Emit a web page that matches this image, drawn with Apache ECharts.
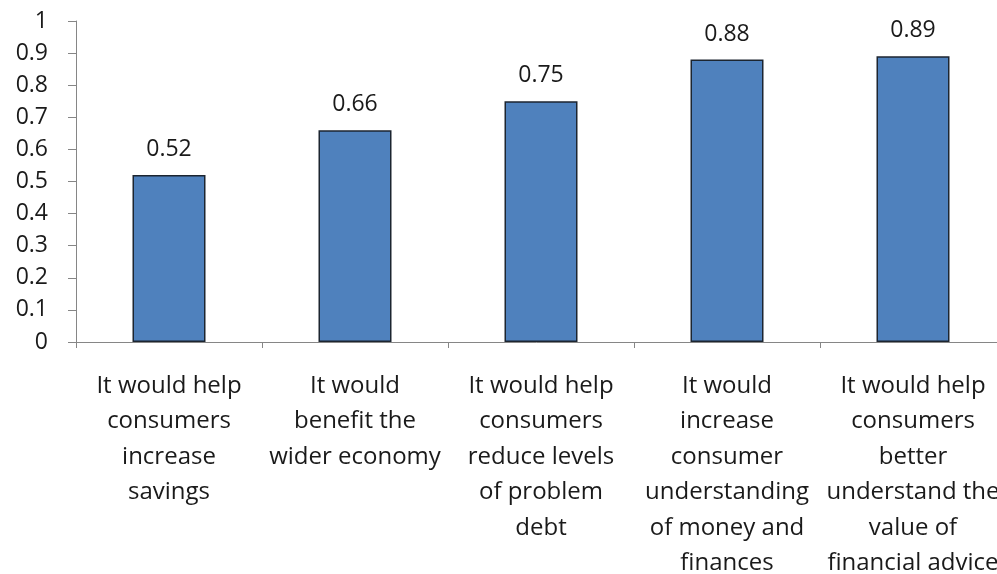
<!DOCTYPE html>
<html>
<head>
<meta charset="utf-8">
<script src="https://cdn.jsdelivr.net/npm/echarts@6/dist/echarts.min.js"></script>
<style>
  html, body { margin: 0; padding: 0; background: #fff; overflow: hidden; }
  #chart { width: 997px; height: 574px; }
</style>
</head>
<body>
<div id="chart"></div>
<script>
// Reasons given for the benefit of financial education (share of respondents)
const categories = [
  'It would help\nconsumers\nincrease\nsavings',
  'It would\nbenefit the\nwider economy',
  'It would help\nconsumers\nreduce levels\nof problem\ndebt',
  'It would\nincrease\nconsumer\nunderstanding\nof money and\nfinances',
  'It would help\nconsumers\nbetter\nunderstand the\nvalue of\nfinancial advice'
];
const values = [0.52, 0.66, 0.75, 0.88, 0.89];

const FONT = 'Open Sans, Noto Sans, sans-serif';
const chart = echarts.init(document.getElementById('chart'));
chart.setOption({
  animation: false,
  // fixed plot rectangle; it runs slightly past the right edge of the canvas
  grid: {
    left: 76, width: 930, top: 21, height: 321,
    containLabel: false,
    outerBoundsMode: 'none'
  },
  xAxis: {
    type: 'category',
    data: categories,
    axisLine: { lineStyle: { color: '#868686', width: 1 } },
    axisTick: { show: true, length: 6, alignWithLabel: false, lineStyle: { color: '#868686' } },
    axisLabel: {
      interval: 0,
      margin: 26,
      color: '#1a1a1a',
      fontFamily: FONT,
      fontSize: 24,
      lineHeight: 35.5,
      align: 'center'
    }
  },
  yAxis: {
    type: 'value',
    min: 0,
    max: 1,
    interval: 0.1,
    splitLine: { show: false },
    axisLine: { show: true, lineStyle: { color: '#868686', width: 1 } },
    axisTick: { show: true, length: 8, lineStyle: { color: '#868686' } },
    axisLabel: {
      margin: 28,
      color: '#1a1a1a',
      fontFamily: FONT,
      fontSize: 23,
      formatter: v => String(Math.round(v * 10) / 10)
    }
  },
  series: [{
    type: 'bar',
    data: values,
    barWidth: 73,
    itemStyle: { color: '#4F81BD', borderColor: '#1c2530', borderWidth: 1.5 },
    label: {
      show: true,
      position: 'top',
      distance: 14,
      color: '#1a1a1a',
      fontFamily: FONT,
      fontSize: 23,
      formatter: p => p.value.toFixed(2)
    }
  }]
});
</script>
</body>
</html>
